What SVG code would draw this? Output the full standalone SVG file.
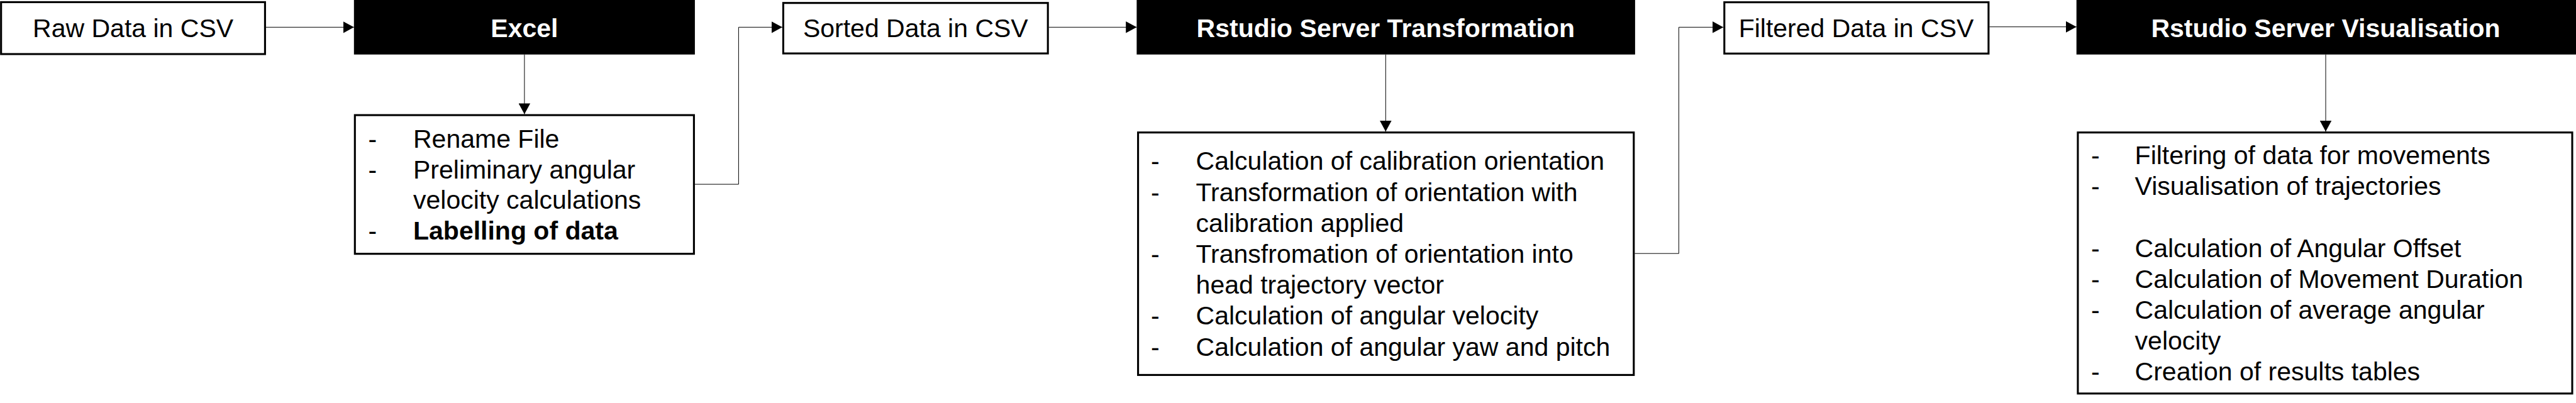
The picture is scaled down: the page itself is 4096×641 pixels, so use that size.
<svg xmlns="http://www.w3.org/2000/svg" width="4096" height="641" viewBox="0 0 4096 641">
<style>
.box{fill:#fff;stroke:#000;stroke-width:3.1}
.blk{fill:#000;stroke:none}
.t{font-family:"Liberation Sans",Arial,sans-serif;font-size:41px;fill:#000}
.c{text-anchor:middle}
.h{font-family:"Liberation Sans",Arial,sans-serif;font-size:41px;font-weight:bold;fill:#fff;text-anchor:middle}
.b{font-weight:bold}
.con{fill:none;stroke:#000;stroke-width:1}
</style>
<defs>
<marker id="ah" markerUnits="userSpaceOnUse" markerWidth="17.2" markerHeight="18.6" refX="17.2" refY="9.3" orient="auto">
<path d="M0,0 L17.2,9.3 L0,18.6 Z" fill="#000"/>
</marker>
</defs>
<rect width="4096" height="641" fill="#fff"/>
<g id="connectors">
<path class="con" d="M423,43.3 H562.8" marker-end="url(#ah)"/>
<path class="con" d="M833.9,86.7 V181.6" marker-end="url(#ah)"/>
<path class="con" d="M1104.9,293.1 H1174.4 V43.3 H1243.9" marker-end="url(#ah)"/>
<path class="con" d="M1667.7,43.3 H1807.4" marker-end="url(#ah)"/>
<path class="con" d="M2203.3,86.7 V209.2" marker-end="url(#ah)"/>
<path class="con" d="M2599.3,403.2 H2669.4 V43.3 H2740.3" marker-end="url(#ah)"/>
<path class="con" d="M3163.4,42.7 H3301.7" marker-end="url(#ah)"/>
<path class="con" d="M3698,86.7 V209.2" marker-end="url(#ah)"/>
</g>
<g id="raw">
<rect class="box" x="1.7" y="3.4" width="419.7" height="82.6"/>
<text class="t c" x="211.6" y="59.2">Raw Data in CSV</text>
</g>
<g id="excel">
<rect class="blk" x="562.8" y="0" width="542.1" height="86.7"/>
<text class="h" x="833.9" y="59">Excel</text>
</g>
<g id="excel-list">
<rect class="box" x="564.3" y="183.1" width="539.1" height="220.6"/>
<text class="t" x="585.5" y="234.6">-</text>
<text class="t" x="657" y="234.6">Rename File</text>
<text class="t" x="585.5" y="283.5">-</text>
<text class="t" x="657" y="283.5">Preliminary angular</text>
<text class="t" x="657" y="332.3">velocity calculations</text>
<text class="t" x="585.5" y="381.2">-</text>
<text class="t b" x="657" y="381.2">Labelling of data</text>
</g>
<g id="sorted">
<rect class="box" x="1245.4" y="4.7" width="420.8" height="80.3"/>
<text class="t c" x="1455.8" y="58.5">Sorted Data in CSV</text>
</g>
<g id="rst">
<rect class="blk" x="1807.4" y="0" width="792.5" height="86.7"/>
<text class="h" x="2203.3" y="58.5">Rstudio Server Transformation</text>
</g>
<g id="rst-list">
<rect class="box" x="1809.6" y="210.7" width="788.2" height="385.7"/>
<text class="t" x="1830.1" y="270.4">-</text>
<text class="t" x="1901.6" y="270.4">Calculation of calibration orientation</text>
<text class="t" x="1830.1" y="319.9">-</text>
<text class="t" x="1901.6" y="319.9">Transformation of orientation with</text>
<text class="t" x="1901.6" y="368.8">calibration applied</text>
<text class="t" x="1830.1" y="418.3">-</text>
<text class="t" x="1901.6" y="418.3">Transfromation of orientation into</text>
<text class="t" x="1901.6" y="467.2">head trajectory vector</text>
<text class="t" x="1830.1" y="516">-</text>
<text class="t" x="1901.6" y="516">Calculation of angular velocity</text>
<text class="t" x="1830.1" y="565.5">-</text>
<text class="t" x="1901.6" y="565.5">Calculation of angular yaw and pitch</text>
</g>
<g id="filtered">
<rect class="box" x="2741.8" y="3.6" width="420.1" height="81.6"/>
<text class="t c" x="2951.5" y="58.5">Filtered Data in CSV</text>
</g>
<g id="rsv">
<rect class="blk" x="3301.7" y="0" width="794.3" height="86.7"/>
<text class="h" x="3698" y="58.5">Rstudio Server Visualisation</text>
</g>
<g id="rsv-list">
<rect class="box" x="3303.9" y="210.7" width="786.1" height="415.2"/>
<text class="t" x="3325.1" y="261.4">-</text>
<text class="t" x="3394.6" y="261.4">Filtering of data for movements</text>
<text class="t" x="3325.1" y="310.3">-</text>
<text class="t" x="3394.6" y="310.3">Visualisation of trajectories</text>
<text class="t" x="3325.1" y="408.7">-</text>
<text class="t" x="3394.6" y="408.7">Calculation of Angular Offset</text>
<text class="t" x="3325.1" y="458.2">-</text>
<text class="t" x="3394.6" y="458.2">Calculation of Movement Duration</text>
<text class="t" x="3325.1" y="507.1">-</text>
<text class="t" x="3394.6" y="507.1">Calculation of average angular</text>
<text class="t" x="3394.6" y="555.9">velocity</text>
<text class="t" x="3325.1" y="605.4">-</text>
<text class="t" x="3394.6" y="605.4">Creation of results tables</text>
</g>
</svg>
